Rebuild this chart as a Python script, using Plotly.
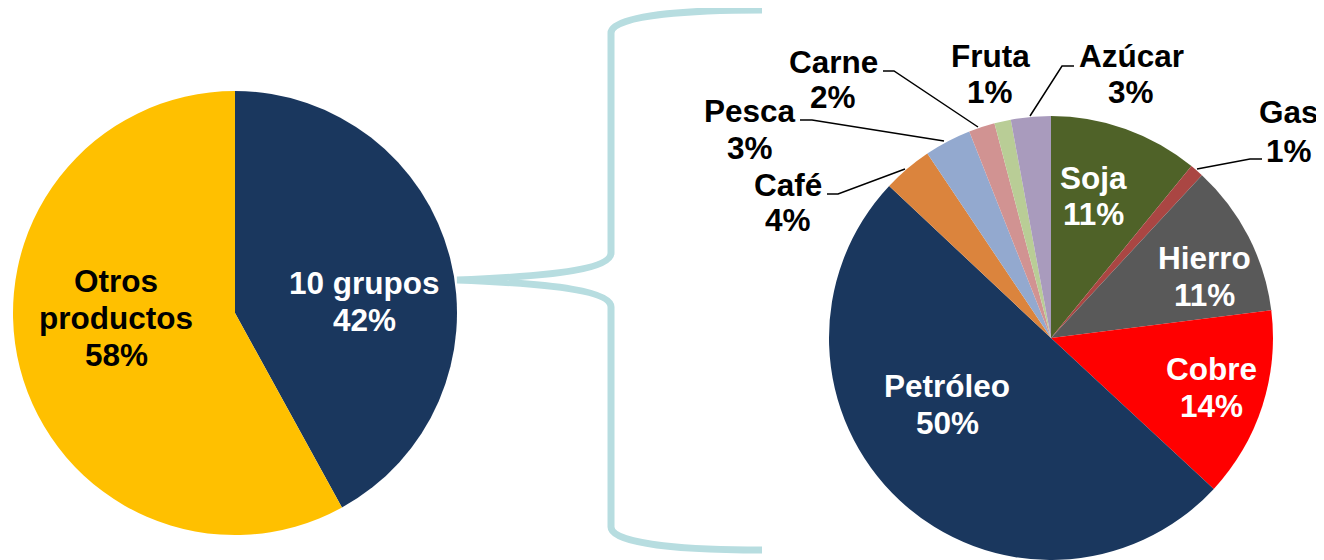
import plotly.graph_objects as go

# ---------------- data ----------------
left_labels = ["10 grupos", "Otros productos"]
left_values = [42, 58]
left_colors = ["#1A375E", "#FFC000"]

right_labels = ["Soja", "Gas", "Hierro", "Cobre", "Petróleo", "Café",
                "Pesca", "Carne", "Fruta", "Azúcar"]
right_values = [10.9, 1.0, 11.1, 13.9, 50.1, 3.6, 3.4, 1.9, 1.2, 2.9]
right_colors = ["#4F6228", "#AA4643", "#595959", "#FF0000", "#1A375E",
                "#DB843D", "#93A9CF", "#D19392", "#B9CD96", "#A99BBD"]

# page body has an 8px default margin: figure is offset by (8, 8)
OFF = 8
W, H = 1324 - OFF, 560 - OFF


def px(x):
    return (x - OFF) / W


def py(y):
    return 1 - (y - OFF) / H


def pct(values):
    s = sum(values)
    return [f"{round(v / s * 100)}%" for v in values]


fig = go.Figure()

# left pie: center (235,313), r=222 (screen px)
fig.add_trace(go.Pie(
    labels=left_labels, values=left_values, sort=False, direction="clockwise",
    rotation=0, textinfo="none", hoverinfo="label+percent",
    marker=dict(colors=left_colors, line=dict(width=0)),
    domain=dict(x=[px(235 - 222), px(235 + 222)], y=[py(313 + 222), py(313 - 222)]),
    showlegend=False,
))

# right pie: center (1051,338), r=222
fig.add_trace(go.Pie(
    labels=right_labels, values=right_values, sort=False, direction="clockwise",
    rotation=0, textinfo="none", hoverinfo="label+percent",
    marker=dict(colors=right_colors, line=dict(width=0)),
    domain=dict(x=[px(1051 - 222), px(1051 + 222)], y=[max(0, py(338 + 222)), py(338 - 222)]),
    showlegend=False,
))

# ---------------- labels ----------------
FONT = "Arial, Liberation Sans, sans-serif"
FS = 31.5

left_pct = pct(left_values)
right_pct = pct(right_values)

# label layout: name -> (x center, [line y centers], text colour)
label_pos = {
    "10 grupos": (364, [283, 320], "white"),
    "Otros productos": (116, [281, 318, 355], "black"),
    "Soja": (1093, [178, 214], "white"),
    "Gas": (1289, [112, 151], "black"),
    "Hierro": (1204, [258, 295], "white"),
    "Cobre": (1211, [369, 406], "white"),
    "Petróleo": (947, [386, 423], "white"),
    "Café": (788, [185, 220], "black"),
    "Pesca": (750, [111, 148], "black"),
    "Carne": (833, [62, 97], "black"),
    "Fruta": (990, [56, 92], "black"),
    "Azúcar": (1131, [56, 92], "black"),
}

annotations = []
for labels, pcts in ((left_labels, left_pct), (right_labels, right_pct)):
    for name, p in zip(labels, pcts):
        x, ys, col = label_pos[name]
        words = name.split(" ") if name == "Otros productos" else [name]
        lines = words + [p]
        for txt, y in zip(lines, ys):
            annotations.append(dict(
                x=px(x), y=py(y), xref="paper", yref="paper",
                text=f"<b>{txt}</b>", showarrow=False,
                xanchor="center", yanchor="middle",
                font=dict(family=FONT, size=FS, color=col),
            ))

# ---------------- shapes ----------------
def path_px(cmds):
    out = []
    for c in cmds:
        if isinstance(c, str):
            out.append(c)
        else:
            out.append(f"{px(c[0]):.5f},{py(c[1]):.5f}")
    return " ".join(out)


brace = path_px([
    "M", (762, 10), "C", (700, 10), (611, 14), (611, 33),
    "L", (611, 253),
    "C", (611, 268), (560, 276), (457, 280),
    "C", (560, 284), (611, 292), (611, 307),
    "L", (611, 527),
    "C", (611, 546), (700, 550), (762, 550),
])

shapes = [dict(type="path", path=brace, xref="paper", yref="paper",
               line=dict(color="#B7DDE0", width=7), layer="below")]

leaders = [
    [(1074, 66), (1062, 66), (1030, 116)],      # Azúcar
    [(883, 71), (894, 71), (978, 127)],         # Carne
    [(800, 120), (812, 120), (944, 141)],       # Pesca
    [(827, 194), (838, 194), (905, 169)],       # Café
    [(1262, 159), (1250, 159), (1197, 169)],    # Gas
]
for pts in leaders:
    cmds = ["M", pts[0]]
    for p in pts[1:]:
        cmds += ["L", p]
    shapes.append(dict(type="path", path=path_px(cmds), xref="paper", yref="paper",
                       line=dict(color="black", width=1.5)))

fig.update_layout(
    width=W, height=H,
    margin=dict(l=0, r=0, t=0, b=0),
    paper_bgcolor="white", plot_bgcolor="white",
    annotations=annotations, shapes=shapes,
    showlegend=False,
)

fig.write_html("out.html")
